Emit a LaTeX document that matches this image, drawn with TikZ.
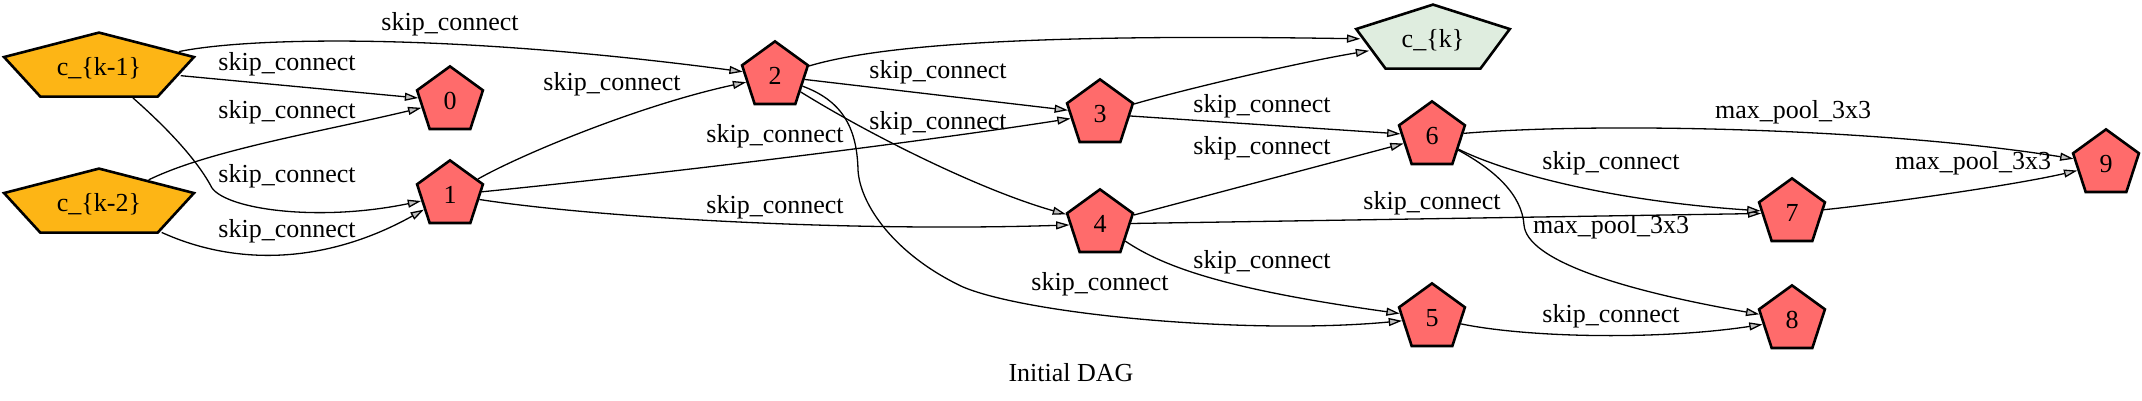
\documentclass[tikz,border=0pt]{standalone}
\usepackage{fontspec}
\setmainfont{Liberation Serif}
\usetikzlibrary{shapes.geometric,arrows.meta}
\definecolor{inputfill}{HTML}{FDB515}
\definecolor{opfill}{HTML}{FF6B6B}
\definecolor{outfill}{HTML}{DFEDDF}
\definecolor{tipfill}{HTML}{C0C0C0}
\begin{document}
\begin{tikzpicture}[x=50pt,y=50pt,
    font=\fontsize{13}{15}\selectfont,
    pent/.style={regular polygon,regular polygon sides=5,draw,line width=1.3pt,inner sep=0pt,minimum size=34.6pt,fill=opfill},
    widepent/.style={pent,minimum size=35.4pt,xscale=#1,transform shape},
    edge/.style={line width=0.65pt,-{Triangle[length=6.7pt,width=4pt,fill=tipfill]}},
    lbl/.style={inner sep=0pt}]
    \useasboundingbox (0,0) rectangle (21.42,4.01);
    \node[widepent=2.82,fill=inputfill] (km1) at (0.99,3.33) {\scalebox{0.355}[1]{c\_\{k-1\}}};
    \node[widepent=2.82,fill=inputfill] (km2) at (0.99,1.97) {\scalebox{0.355}[1]{c\_\{k-2\}}};
    \node[pent] (n0) at (4.50,3.00) {0};
    \node[pent] (n1) at (4.50,2.06) {1};
    \node[pent] (n2) at (7.75,3.25) {2};
    \node[pent] (n3) at (11.00,2.87) {3};
    \node[pent] (n4) at (11.00,1.77) {4};
    \node[widepent=2.28,fill=outfill] (k) at (14.33,3.61) {\scalebox{0.439}[1]{c\_\{k\}}};
    \node[pent] (n6) at (14.32,2.65) {6};
    \node[pent] (n5) at (14.32,0.83) {5};
    \node[pent] (n7) at (17.92,1.88) {7};
    \node[pent] (n8) at (17.92,0.81) {8};
    \node[pent] (n9) at (21.06,2.37) {9};

    \draw[edge] (km1) -- (n0);
    \draw[edge] (km2) .. controls (2.10,2.51) and (3.20,2.69) .. (n0);
    \draw[edge] (km1) .. controls (1.75,2.66) and (2.00,2.36) .. (2.12,2.13) .. controls (2.28,1.91) and (3.20,1.79) .. (n1);
    \draw[edge] (km2) .. controls (2.40,1.33) and (3.30,1.39) .. (n1);
    \draw[edge] (km1) .. controls (2.50,3.64) and (4.50,3.68) .. (n2);
    \draw[edge] (n1) .. controls (5.20,2.46) and (6.40,2.96) .. (n2);
    \draw[edge] (n1) .. controls (6.50,2.26) and (9.00,2.56) .. (n3);
    \draw[edge] (n1) .. controls (6.00,1.83) and (8.50,1.69) .. (n4);
    \draw[edge] (n2) .. controls (8.70,3.53) and (10.00,3.68) .. (k);
    \draw[edge] (n2) -- (n3);
    \draw[edge] (n2) .. controls (8.70,2.66) and (9.80,2.11) .. (n4);
    \draw[edge] (n2) .. controls (8.40,3.01) and (8.57,2.76) .. (8.58,2.31) .. controls (8.60,1.96) and (8.95,1.46) .. (9.63,1.14) .. controls (10.30,0.86) and (12.50,0.66) .. (n5);
    \draw[edge] (n3) .. controls (11.75,3.09) and (12.90,3.37) .. (k);
    \draw[edge] (n3) -- (n6);
    \draw[edge] (n4) -- (n6);
    \draw[edge] (n4) -- (n7);
    \draw[edge] (n4) .. controls (11.65,1.33) and (12.30,1.11) .. (n5);
    \draw[edge] (n6) .. controls (16.00,2.79) and (18.80,2.73) .. (n9);
    \draw[edge] (n6) .. controls (15.00,2.31) and (16.00,2.01) .. (n7);
    \draw[edge] (n6) .. controls (14.95,2.31) and (15.22,2.06) .. (15.24,1.76) .. controls (15.27,1.41) and (16.20,1.11) .. (n8);
    \draw[edge] (n5) .. controls (15.30,0.63) and (16.60,0.61) .. (n8);
    \draw[edge] (n7) .. controls (18.80,1.97) and (20.10,2.15) .. (n9);

    \node[lbl] (s1) at (4.50,3.77) {skip\_connect};
    \node[lbl] (s2) at (2.87,3.37) {skip\_connect};
    \node[lbl] (s3) at (2.87,2.89) {skip\_connect};
    \node[lbl] (s4) at (2.87,2.25) {skip\_connect};
    \node[lbl] (s5) at (2.87,1.70) {skip\_connect};
    \node[lbl] (s6) at (6.12,3.17) {skip\_connect};
    \node[lbl] (s7) at (9.38,3.29) {skip\_connect};
    \node[lbl] (s8) at (9.38,2.78) {skip\_connect};
    \node[lbl] (s9) at (7.75,2.65) {skip\_connect};
    \node[lbl] (s10) at (7.75,1.94) {skip\_connect};
    \node[lbl] (s11) at (12.62,2.95) {skip\_connect};
    \node[lbl] (s12) at (12.62,2.53) {skip\_connect};
    \node[lbl] (s13) at (12.62,1.39) {skip\_connect};
    \node[lbl] (s14) at (11.00,1.17) {skip\_connect};
    \node[lbl] (s15) at (14.32,1.98) {skip\_connect};
    \node[lbl] (s16) at (16.11,2.38) {skip\_connect};
    \node[lbl] (m1) at (16.11,1.74) {max\_pool\_3x3};
    \node[lbl] (s17) at (16.11,0.85) {skip\_connect};
    \node[lbl] (m2) at (17.93,2.89) {max\_pool\_3x3};
    \node[lbl] (m3) at (19.73,2.38) {max\_pool\_3x3};

    \node (title) at (10.71,0.28) {Initial DAG};
\end{tikzpicture}
\end{document}
